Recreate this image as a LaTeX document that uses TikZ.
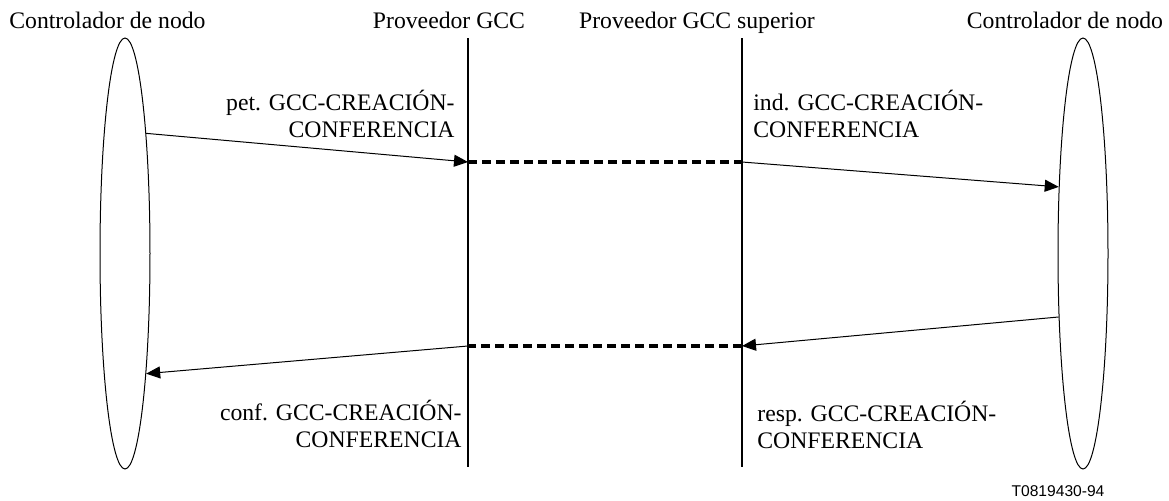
\documentclass[tikz,border=0pt]{standalone}
\usepackage{fontspec}
\setmainfont{Liberation Serif}
\newfontfamily\tagfont{Liberation Sans}
\usetikzlibrary{arrows.meta,shapes.geometric}

\tikzset{
	lbl/.style={inner sep=0pt, font=\fontsize{11.85}{13.5}\selectfont},
	msglbl/.style={lbl, align=#1},
	lifeline/.style={line width=1pt},
	ctrl/.style={draw, ellipse, line width=0.5pt, inner sep=0pt, minimum width=25pt, minimum height=215.5pt},
	msg/.style={line width=0.5pt, -{Triangle[length=7pt,width=6pt]}},
	relay/.style={line width=2pt, dash pattern=on 4.5pt off 2.5pt}
}

\begin{document}
\begin{tikzpicture}[x=0.5pt, y=-0.5pt]
			%%%%% START %%%%%
			\useasboundingbox (0, 0) rectangle (1169, 500);
			
			% headings
			\node[lbl, anchor=base west] (hdrCtrlL) at (9, 28) {Controlador de nodo};
			\node[lbl, anchor=base] (hdrGcc) at (449, 28) {Proveedor GCC};
			\node[lbl, anchor=base] (hdrSup) at (697, 28) {Proveedor GCC superior};
			\node[lbl, anchor=base] (hdrCtrlR) at (1065, 28) {Controlador de nodo};
			
			% node controllers
			\node[ctrl] (ctrlL) at (125, 253.5) {};
			\node[ctrl] (ctrlR) at (1083, 253.5) {};
			
			% providers
			\coordinate (gccTop) at (468, 38);
			\coordinate (gccBot) at (468, 467);
			\coordinate (supTop) at (742, 38);
			\coordinate (supBot) at (742, 467);
			\draw[lifeline] (gccTop) -- (gccBot);
			\draw[lifeline] (supTop) -- (supBot);
			
			\coordinate (gccReq) at (468, 162);
			\coordinate (supInd) at (742, 162);
			\coordinate (supRsp) at (742, 346);
			\coordinate (gccCnf) at (468, 346);
			
			% messages
			\draw[msg] (ctrlL.80) -- (gccReq);
			\draw[relay] (gccReq) -- (supInd);
			\draw[msg] (supInd) -- (ctrlR.110.6);
			
			\draw[msg] (ctrlR.-111.3) -- (supRsp);
			\draw[relay] (supRsp) -- (gccCnf);
			\draw[msg] (gccCnf) -- (ctrlL.-80.5);
			
			\node[msglbl=right, anchor=base east] (lblReq) at (455, 137) {pet. GCC-CREACIÓN-\\CONFERENCIA};
			\node[msglbl=left, anchor=base west] (lblInd) at (753, 137) {ind. GCC-CREACIÓN-\\CONFERENCIA};
			\node[msglbl=right, anchor=base east] (lblCnf) at (462, 447) {conf. GCC-CREACIÓN-\\CONFERENCIA};
			\node[msglbl=left, anchor=base west] (lblRsp) at (757, 448) {resp. GCC-CREACIÓN-\\CONFERENCIA};
			
			\node[inner sep=0pt, anchor=base, font=\tagfont\fontsize{7.8}{9}\selectfont] (tag) at (1058, 496) {T0819430-94};
			%%%%% END %%%%%
\end{tikzpicture}
\end{document}
